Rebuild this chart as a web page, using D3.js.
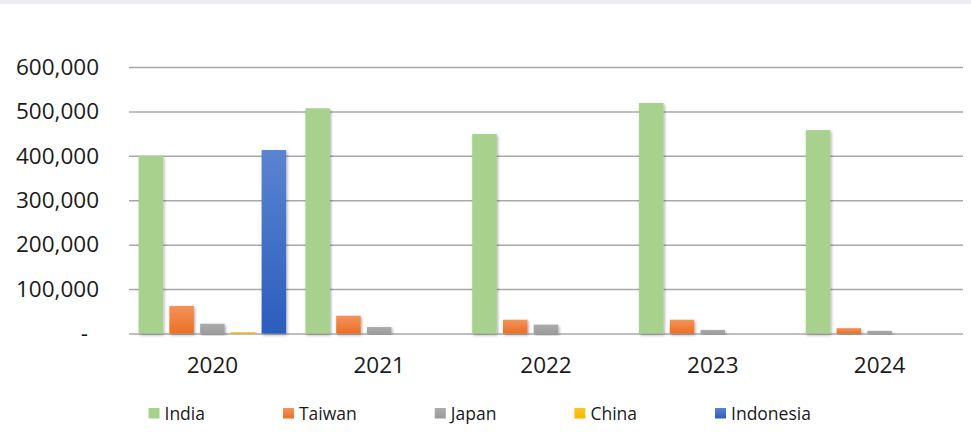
<!DOCTYPE html>
<html>
<head>
<meta charset="utf-8">
<script src="https://cdn.jsdelivr.net/npm/d3@7/dist/d3.min.js"></script>
<style>
  body { margin: 0; background: #ffffff; }
  text { font-family: "Open Sans", sans-serif; fill: #1a1a1a; }
</style>
</head>
<body>
<div id="chart"></div>
<script>
// data
var years = ["2020", "2021", "2022", "2023", "2024"];
var countries = ["India", "Taiwan", "Japan", "China", "Indonesia"];
var india     = [400000, 507000, 449000, 519000, 458000];
var taiwan    = [62000, 40000, 31000, 31000, 12000];
var japan     = [22000, 14500, 20000, 8000, 6000];
var china     = [3000, 0, 0, 0, 0];
var indonesia = [413000, 0, 0, 0, 0];
var yTicks = [0, 100000, 200000, 300000, 400000, 500000, 600000];

var seriesValues = [india, taiwan, japan, china, indonesia];
var colors = {
    "India":     ["#a9d18e", "#a9d18e"],
    "Taiwan":    ["#f4935a", "#ea6f24"],
    "Japan":     ["#ababab", "#9c9c9c"],
    "China":     ["#ffc520", "#f5b800"],
    "Indonesia": ["#5a84d0", "#2c5dbd"]
};

var W = 971, H = 435;

var svg = d3.select("#chart")
    .append("svg")
        .attr("width", W)
        .attr("height", H);

var defs = svg.append("defs");

defs.append("filter")
        .attr("id", "shadow")
        .attr("x", "-30%").attr("y", "-10%")
        .attr("width", "160%").attr("height", "130%")
    .append("feDropShadow")
        .attr("dx", 1).attr("dy", 1.5)
        .attr("stdDeviation", 1.6)
        .attr("flood-color", "#000")
        .attr("flood-opacity", 0.35);

countries.forEach(function(c, i){
    var g = defs.append("linearGradient")
        .attr("id", "grad" + i)
        .attr("x1", 0).attr("y1", 0).attr("x2", 0).attr("y2", 1);
    g.append("stop").attr("offset", "0%").attr("stop-color", colors[c][0]);
    g.append("stop").attr("offset", "100%").attr("stop-color", colors[c][1]);
});

// faint strip across the top of the picture
svg.append("rect")
    .attr("x", 0).attr("y", 0)
    .attr("width", W).attr("height", 4)
    .attr("fill", "#eceef1");

var x0 = d3.scaleBand()
    .domain(years)
    .range([129, 963])
    .paddingInner(0)
    .paddingOuter(0);

var x1 = d3.scaleBand()
    .domain(countries)
    .range([0, x0.bandwidth()])
    .paddingInner(0.203)
    .paddingOuter(0.3135);

var y = d3.scaleLinear()
    .domain([0, 600000])
    .range([333.5, 67]);

// gridlines + value labels
var yAxis = d3.axisLeft(y)
    .tickValues(yTicks)
    .tickSize(-(963 - 129))
    .tickPadding(30)
    .tickFormat(function(d){ return d === 0 ? "-" : d3.format(",")(d); });

var gAxis = svg.append("g")
    .attr("transform", "translate(129,0)")
    .call(yAxis);

gAxis.select(".domain").remove();
gAxis.selectAll(".tick line")
    .attr("stroke", "#a8a8a8")
    .attr("stroke-width", 1.5);
gAxis.selectAll(".tick text")
    .attr("font-size", 22.5)
    .attr("fill", "#1a1a1a")
    .attr("font-family", "Open Sans, sans-serif")
    .attr("dx", function(d){ return d === 0 ? -11 : 0; });

// bars
var rows = [];
years.forEach(function(yr, yi){
    countries.forEach(function(c, ci){
        rows.push({ year: yr, country: c, ci: ci, value: seriesValues[ci][yi] });
    });
});

svg.append("g")
    .selectAll("rect")
    .data(rows.filter(function(d){ return d.value > 0; }))
    .enter()
    .append("rect")
        .attr("x", function(d){ return x0(d.year) + x1(d.country); })
        .attr("y", function(d){ return y(d.value); })
        .attr("width", x1.bandwidth())
        .attr("height", function(d){ return y(0) - y(d.value); })
        .attr("fill", function(d){ return "url(#grad" + d.ci + ")"; })
        .attr("filter", "url(#shadow)");

// category labels
var xAxis = d3.axisBottom(x0).tickSize(0).tickPadding(24);
var gX = svg.append("g")
    .attr("transform", "translate(0," + y(0) + ")")
    .call(xAxis);
gX.select(".domain").remove();
gX.selectAll(".tick text")
    .attr("font-size", 22.5)
    .attr("fill", "#1a1a1a")
    .attr("font-family", "Open Sans, sans-serif");

// legend
var legend = svg.append("g").attr("transform", "translate(148.5,0)");
var lx = 0;
countries.forEach(function(c, i){
    var item = legend.append("g").attr("transform", "translate(" + lx + ",0)");
    item.append("rect")
        .attr("x", 0).attr("y", 408)
        .attr("width", 11).attr("height", 10.5)
        .attr("fill", "url(#grad" + i + ")");
    var t = item.append("text")
        .attr("x", 16).attr("y", 419.5)
        .attr("font-size", 17.5)
        .text(c);
    lx += 16 + t.node().getComputedTextLength() + 78;
});
</script>
</body>
</html>
